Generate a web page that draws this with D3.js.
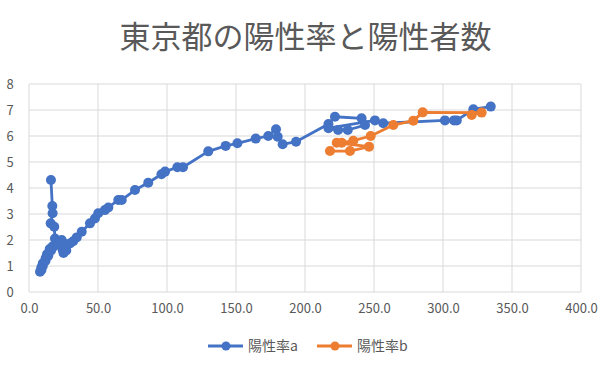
<!DOCTYPE html>
<html>
<head>
<meta charset="utf-8">
<title>東京都の陽性率と陽性者数</title>
<script src="https://d3js.org/d3.v7.min.js"></script>
<style>
  body { margin: 0; background: #fff; }
  text { font-family: "Noto Sans CJK JP", "Noto Sans", sans-serif; fill: #595959; }
</style>
</head>
<body>
<div id="chart"></div>
<script>
// series a: [陽性者数, 陽性率]
var seriesA = [
  [15.9,4.31],[16.9,3.31],[17.1,3.03],[15.7,2.64],[18.3,2.51],[18.8,2.06],[20,1.9],[17,1.75],
  [15,1.65],[13,1.45],[12,1.3],[10,1.1],[9,0.95],[8,0.78],[9,0.85],[10,1.0],[12,1.2],[14,1.4],
  [16,1.6],[18,1.75],[21,1.95],[23.7,2.0],[26,1.85],[24.4,1.62],[25,1.5],[27,1.6],[29.7,1.87],
  [32,1.95],[34.6,2.1],[38.2,2.32],[44.2,2.64],[47.8,2.83],[50.2,3.03],[55,3.15],[57.5,3.25],
  [64.7,3.54],[67.2,3.54],[76.8,3.92],[86.4,4.2],[96,4.53],[98.6,4.63],[107.5,4.8],[111.6,4.8],
  [129.9,5.41],[142.5,5.62],[151,5.72],[164.3,5.9],[173.4,6.0],[179,6.26],[180.2,5.97],
  [183.8,5.68],[193.5,5.78],[217,6.46],[221.7,6.74],[241,6.68],[243.5,6.42],[231,6.23],
  [224,6.23],[217,6.3],[250.7,6.6],[256.7,6.49],[301.4,6.6],[308,6.6],[310,6.6],[322,7.03],
  [334.6,7.13]
];
var seriesB = [
  [218.1,5.42],[232.6,5.42],[246.4,5.59],[223,5.74],[226.6,5.74],[235,5.82],[247.6,6.0],
  [264,6.42],[278.5,6.59],[285.3,6.91],[328,6.9],[320.8,6.81]
];
var seriesNames = ["陽性率a", "陽性率b"];
var seriesColors = ["#4472C4", "#ED7D31"];
var xTicks = [0, 50, 100, 150, 200, 250, 300, 350, 400];
var yTicks = [0, 1, 2, 3, 4, 5, 6, 7, 8];

var W = 609, H = 371;
var margin = {top: 84, right: 28, bottom: 79, left: 29};

var svg = d3.select("#chart").append("svg")
  .attr("width", W).attr("height", H);

var x = d3.scaleLinear().domain([0, 400]).range([margin.left, W - margin.right]);
var y = d3.scaleLinear().domain([0, 8]).range([H - margin.bottom, margin.top]);

// title
svg.append("text")
  .attr("x", W / 2 + 1).attr("y", 48)
  .attr("text-anchor", "middle")
  .style("font-size", "31px")
  .text("東京都の陽性率と陽性者数");

// grid
svg.append("g").selectAll("line").data(yTicks).enter().append("line")
  .attr("x1", x(0)).attr("x2", x(400))
  .attr("y1", function(d) { return y(d); }).attr("y2", function(d) { return y(d); })
  .attr("stroke", "#d9d9d9").attr("stroke-width", 1);
svg.append("g").selectAll("line").data(xTicks).enter().append("line")
  .attr("y1", y(0)).attr("y2", y(8))
  .attr("x1", function(d) { return x(d); }).attr("x2", function(d) { return x(d); })
  .attr("stroke", "#d9d9d9").attr("stroke-width", 1);

// axes labels
var xAxis = svg.append("g")
  .attr("transform", "translate(0," + (y(0) + 6) + ")")
  .call(d3.axisBottom(x).tickValues(xTicks).tickSize(0).tickFormat(d3.format(".1f")));
xAxis.select(".domain").remove();
xAxis.selectAll("text").style("font-size", "13px").attr("dy", "0.9em");

var yAxis = svg.append("g")
  .attr("transform", "translate(" + (x(0) - 16) + ",0)")
  .call(d3.axisLeft(y).tickValues(yTicks).tickSize(0).tickFormat(d3.format("d")));
yAxis.select(".domain").remove();
yAxis.selectAll("text").style("font-size", "13px").attr("text-anchor", "middle");

// series
var line = d3.line()
  .x(function(d) { return x(d[0]); })
  .y(function(d) { return y(d[1]); });

[seriesA, seriesB].forEach(function(data, i) {
  var g = svg.append("g");
  g.append("path")
    .datum(data)
    .attr("d", line)
    .attr("fill", "none")
    .attr("stroke", seriesColors[i])
    .attr("stroke-width", 2.8)
    .attr("stroke-linejoin", "round");
  g.selectAll("circle").data(data).enter().append("circle")
    .attr("cx", function(d) { return x(d[0]); })
    .attr("cy", function(d) { return y(d[1]); })
    .attr("r", 5)
    .attr("fill", seriesColors[i]);
});

// legend
var legendX = [208, 317];
var legend = svg.append("g");
seriesNames.forEach(function(name, i) {
  var lg = legend.append("g").attr("transform", "translate(" + legendX[i] + ",346)");
  lg.append("line").attr("x1", 0).attr("x2", 35)
    .attr("stroke", seriesColors[i]).attr("stroke-width", 2.8);
  lg.append("circle").attr("cx", 18).attr("r", 4.5).attr("fill", seriesColors[i]);
  lg.append("text").attr("x", 40).attr("y", 5)
    .style("font-size", "14px").text(name);
});
</script>
</body>
</html>
